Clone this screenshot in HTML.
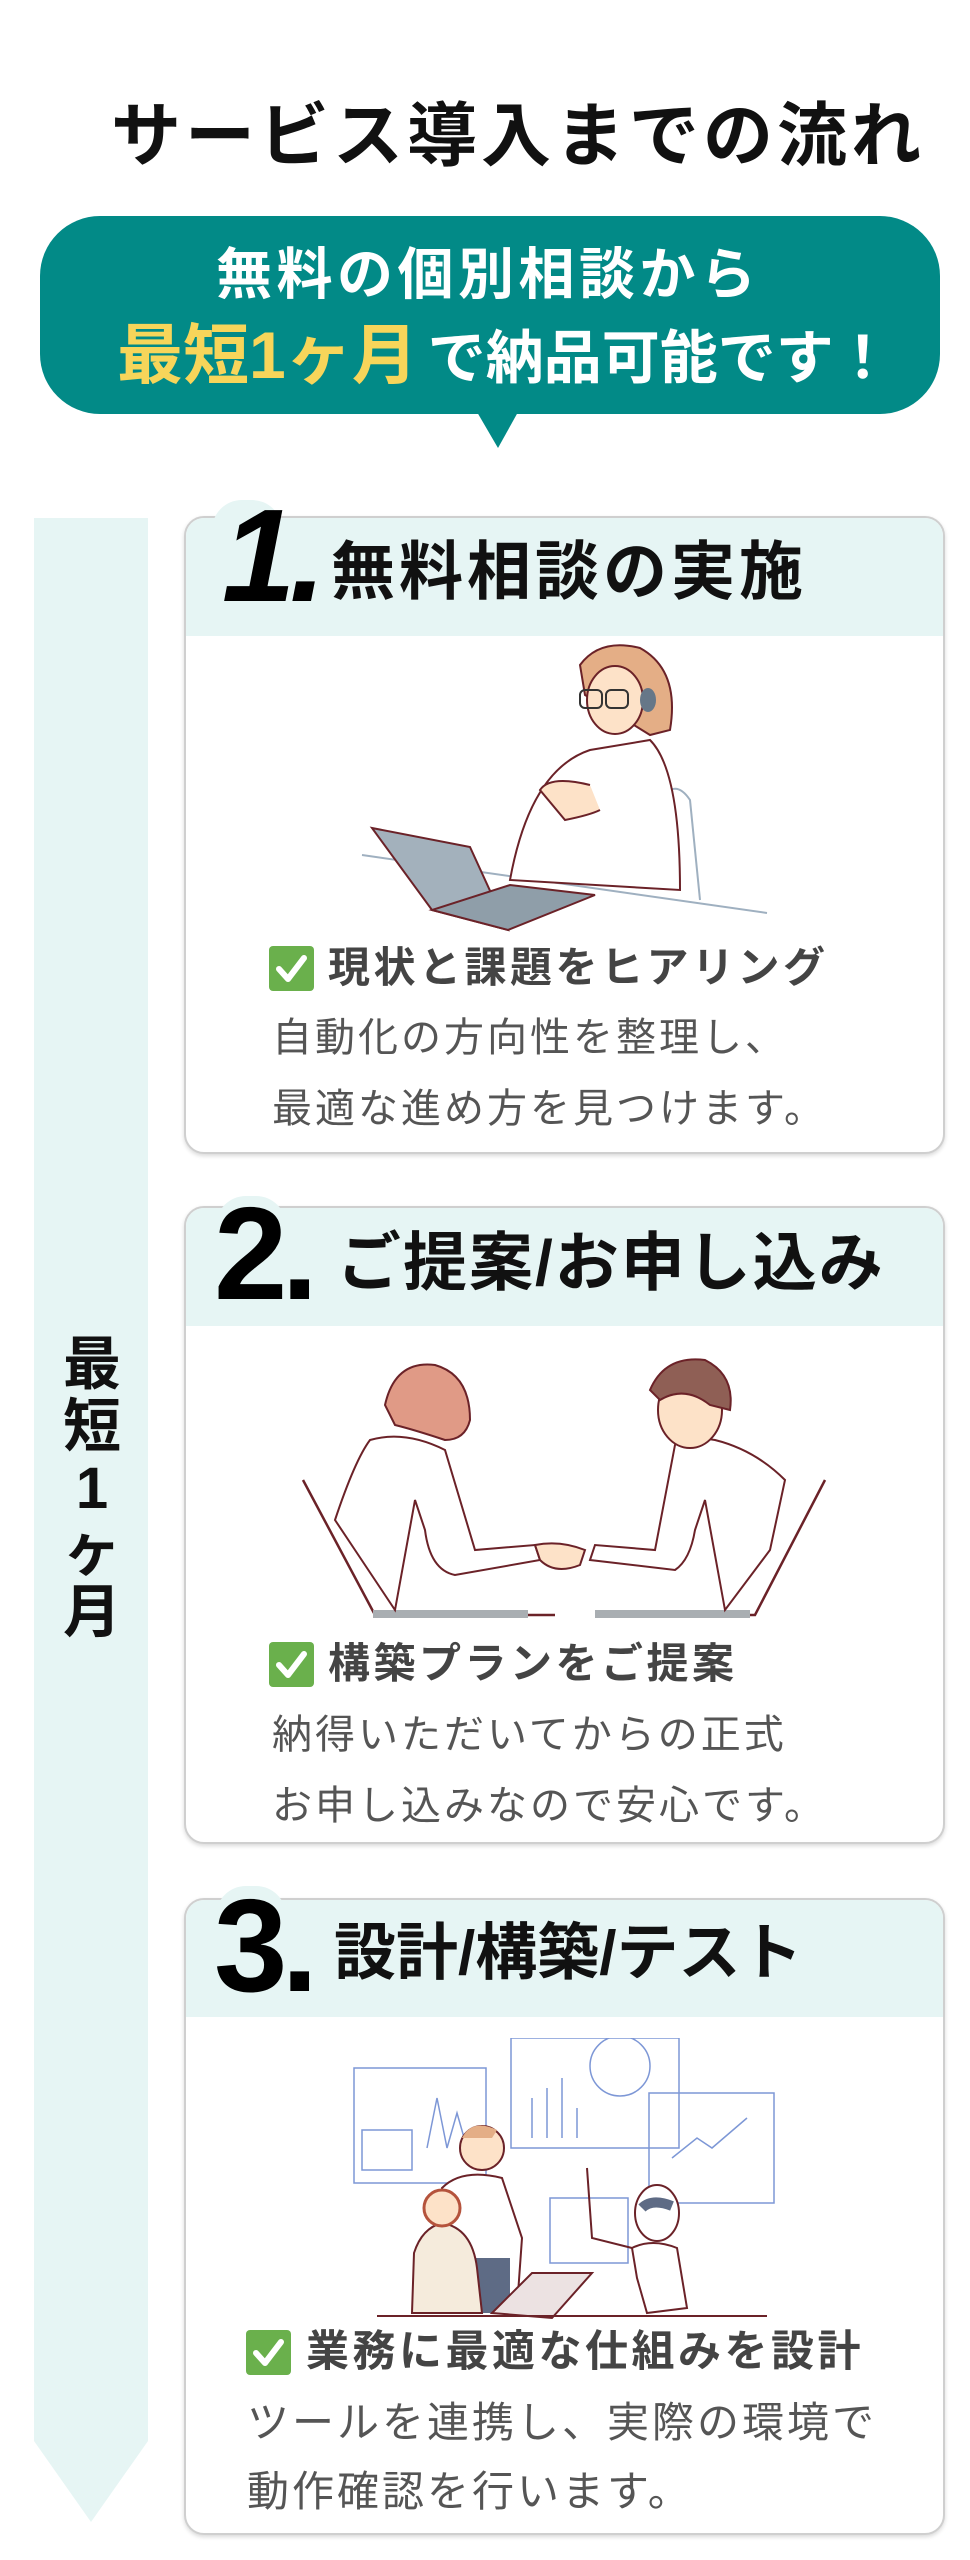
<!DOCTYPE html>
<html><head><meta charset="utf-8"><style>
*{margin:0;padding:0;box-sizing:border-box}
body{width:970px;height:2560px;background:#fff;position:relative;overflow:hidden;font-family:"Liberation Sans","Noto Sans CJK JP",sans-serif}
.a{position:absolute;white-space:nowrap}
.card{position:absolute;left:184px;width:761px;background:#fff;border:2px solid #cfcfcf;border-radius:20px;box-shadow:0 2px 4px rgba(0,0,0,.15);overflow:hidden}
.hd{position:absolute;left:0;top:0;width:100%;background:#e6f5f4}
.num{position:absolute;font-weight:bold;font-size:132px;line-height:1;color:#000;letter-spacing:-6px}
.h{font-weight:bold;color:#111}
.chk{position:absolute;width:45px;height:45px;background:#6ab04c;border-radius:4px}
.t1{font-weight:bold;font-size:42px;color:#444;letter-spacing:3.5px;line-height:44px}
.t2{font-size:40px;color:#555;letter-spacing:3px;line-height:44px}
</style></head><body>

<div class="a h" style="left:111px;top:100px;font-size:70px;line-height:72px;letter-spacing:4px">サービス導入までの流れ</div>

<div class="a" style="left:40px;top:216px;width:900px;height:198px;background:#028a87;border-radius:60px"></div>
<svg class="a" style="left:470px;top:412px" width="56" height="40"><polygon points="7,0 48,0 28,36" fill="#028a87"/></svg>
<div class="a" style="left:216px;top:246px;font-size:56px;line-height:58px;color:#fff;font-weight:bold;letter-spacing:4.5px">無料の個別相談から</div>
<div class="a" style="left:117px;top:320px;line-height:70px;font-weight:bold;color:#fff"><span style="font-size:66px;color:#f7d55a">最短1ヶ月</span><span style="font-size:58px;margin-left:10px">で納品可能です！</span></div>

<!-- left bar -->
<svg class="a" style="left:34px;top:518px" width="114" height="2010"><polygon points="0,0 114,0 114,1923 57,2004 0,1923" fill="#e6f5f4"/></svg>
<div class="a h" style="left:62px;top:1334px;width:60px;font-size:58px;line-height:62px;text-align:center;white-space:normal">最<br>短<br>1<br>ヶ<br>月</div>

<!-- card 1 -->
<div class="card" style="top:516px;height:638px"><div class="hd" style="height:118px"></div></div>
<div class="a" style="left:212px;top:500px;width:70px;height:30px;background:#e6f5f4;border-radius:35px 35px 0 0"></div>
<div class="num a" style="left:222px;top:490px;font-style:italic">1.</div>
<div class="a h" style="left:331px;top:539px;font-size:64px;line-height:66px;letter-spacing:4px">無料相談の実施</div>
<svg class="a" style="left:350px;top:640px" width="430" height="300">
<line x1="12" y1="215" x2="417" y2="273" stroke="#9fb0c0" stroke-width="2"/>
<path d="M315 240 L320 150 Q330 145 340 160 L350 260" fill="none" stroke="#9fb0c0" stroke-width="2"/>
<path d="M160 240 Q180 130 240 110 L300 100 Q330 130 330 250 Z" fill="#fff" stroke="#6b2228" stroke-width="2"/>
<path d="M230 25 Q250 -2 290 8 Q330 30 320 90 L300 95 Q260 70 235 55 Z" fill="#e4ae86" stroke="#6b2228" stroke-width="2"/>
<ellipse cx="265" cy="60" rx="28" ry="34" fill="#fde2c8" stroke="#6b2228" stroke-width="2"/>
<rect x="230" y="50" width="22" height="18" rx="5" fill="none" stroke="#333" stroke-width="2"/>
<rect x="256" y="50" width="22" height="18" rx="5" fill="none" stroke="#333" stroke-width="2"/>
<ellipse cx="298" cy="60" rx="8" ry="12" fill="#667788"/>
<path d="M240 145 Q200 135 190 150 L215 180 Q240 175 250 170" fill="#fde2c8" stroke="#6b2228" stroke-width="2"/>
<polygon points="22,188 120,207 158,290 82,270" fill="#a3b1bc" stroke="#6b2228" stroke-width="2"/>
<polygon points="82,270 158,290 245,255 160,245" fill="#8f9ea9" stroke="#6b2228" stroke-width="2"/>
</svg>
<div class="chk" style="left:269px;top:946px"></div>
<svg class="a" style="left:269px;top:946px" width="45" height="45"><path d="M10 23 L19 33 L35 12" stroke="#fff" stroke-width="6" fill="none" stroke-linecap="round" stroke-linejoin="round"/></svg>
<div class="a t1" style="left:328px;top:946px">現状と課題をヒアリング</div>
<div class="a t2" style="left:272px;top:1016px">自動化の方向性を整理し、</div>
<div class="a t2" style="left:272px;top:1087px">最適な進め方を見つけます。</div>

<!-- card 2 -->
<div class="card" style="top:1206px;height:638px"><div class="hd" style="height:118px"></div></div>
<div class="a" style="left:216px;top:1196px;width:70px;height:30px;background:#e6f5f4;border-radius:35px 35px 0 0"></div>
<div class="num a" style="left:214px;top:1188px">2.</div>
<div class="a h" style="left:337px;top:1230px;font-size:64px;line-height:66px;letter-spacing:2px">ご提案/お申し込み</div>
<svg class="a" style="left:295px;top:1350px" width="540" height="280">
<path d="M8 130 L80 265 L260 265" fill="none" stroke="#6b2228" stroke-width="2.5"/>
<path d="M530 130 L460 265 L300 265" fill="none" stroke="#6b2228" stroke-width="2.5"/>
<rect x="78" y="260" width="155" height="8" fill="#a9aeb2"/><rect x="300" y="260" width="155" height="8" fill="#a9aeb2"/>
<path d="M40 170 Q60 110 75 90 Q110 80 150 100 L180 200 L240 195 L245 210 L160 225 Q135 220 130 180 L120 150 L100 260 L60 200 Z" fill="#fff" stroke="#6b2228" stroke-width="2"/>
<path d="M90 55 Q100 10 140 15 Q175 25 175 70 Q170 90 150 90 Q120 80 100 75 Z" fill="#e09a86" stroke="#6b2228" stroke-width="2"/>
<path d="M490 130 Q460 100 420 90 Q390 85 380 95 L360 200 L300 195 L295 210 L380 220 Q395 210 400 180 L410 150 L430 260 L475 200 Z" fill="#fff" stroke="#6b2228" stroke-width="2"/>
<ellipse cx="395" cy="60" rx="32" ry="38" fill="#fde2c8" stroke="#6b2228" stroke-width="2"/>
<path d="M355 40 Q370 5 410 10 Q440 25 435 60 L415 55 Q390 35 365 50 Z" fill="#8f5f55" stroke="#6b2228" stroke-width="2"/>
<path d="M240 195 Q265 190 290 200 L285 215 Q260 225 245 210 Z" fill="#fde2c8" stroke="#6b2228" stroke-width="2"/>
</svg>
<div class="chk" style="left:269px;top:1642px"></div>
<svg class="a" style="left:269px;top:1642px" width="45" height="45"><path d="M10 23 L19 33 L35 12" stroke="#fff" stroke-width="6" fill="none" stroke-linecap="round" stroke-linejoin="round"/></svg>
<div class="a t1" style="left:328px;top:1642px">構築プランをご提案</div>
<div class="a t2" style="left:272px;top:1713px">納得いただいてからの正式</div>
<div class="a t2" style="left:272px;top:1784px">お申し込みなので安心です。</div>

<!-- card 3 -->
<div class="card" style="top:1898px;height:637px"><div class="hd" style="height:117px"></div></div>
<div class="a" style="left:216px;top:1886px;width:70px;height:30px;background:#e6f5f4;border-radius:35px 35px 0 0"></div>
<div class="num a" style="left:214px;top:1880px">3.</div>
<div class="a h" style="left:334px;top:1922px;font-size:62px;line-height:64px;letter-spacing:0px">設計/構築/テスト</div>
<svg class="a" style="left:352px;top:2038px" width="430" height="290">
<g fill="none" stroke="#7d97d6" stroke-width="1.5">
<rect x="2" y="30" width="132" height="115"/><rect x="159" y="0" width="168" height="110"/><rect x="297" y="55" width="125" height="110"/><rect x="198" y="160" width="78" height="65"/>
<circle cx="268" cy="28" r="30"/><rect x="10" y="92" width="50" height="40"/>
<path d="M75 110 L85 60 L95 110 L105 75 L115 110"/><path d="M180 100 V60 M195 100 V50 M210 100 V40 M225 100 V70"/>
<path d="M320 120 L345 100 L360 110 L395 80"/>
</g>
<path d="M90 150 Q110 130 150 140 L170 200 L165 270 L110 270 L100 210 Z" fill="#fff" stroke="#6b2228" stroke-width="2"/>
<rect x="108" y="220" width="50" height="55" fill="#5e6b85"/>
<circle cx="130" cy="110" r="22" fill="#fde2c8" stroke="#6b2228" stroke-width="2"/>
<path d="M110 100 Q120 80 145 92 L140 100 Z" fill="#e4ae86"/>
<path d="M62 215 Q70 190 90 185 Q120 190 125 230 L130 275 L60 275 Z" fill="#f5ebdc" stroke="#6b2228" stroke-width="2"/>
<circle cx="90" cy="170" r="18" fill="#fde2c8" stroke="#b5533c" stroke-width="3"/>
<path d="M140 275 L180 235 L240 235 L200 280 Z" fill="#ece2e2" stroke="#6b2228" stroke-width="2"/>
<ellipse cx="305" cy="175" rx="22" ry="28" fill="#fff" stroke="#6b2228" stroke-width="2"/>
<path d="M290 170 Q300 160 320 168" fill="none" stroke="#5e6b85" stroke-width="10"/>
<path d="M280 210 Q300 200 325 210 L335 270 L295 275 L285 240 Z" fill="#fff" stroke="#6b2228" stroke-width="2"/>
<path d="M280 210 L240 200 L235 130" fill="none" stroke="#6b2228" stroke-width="2"/>
<line x1="25" y1="278" x2="415" y2="278" stroke="#6b2228" stroke-width="2"/>
</svg>
<div class="chk" style="left:246px;top:2330px"></div>
<svg class="a" style="left:246px;top:2330px" width="45" height="45"><path d="M10 23 L19 33 L35 12" stroke="#fff" stroke-width="6" fill="none" stroke-linecap="round" stroke-linejoin="round"/></svg>
<div class="a t1" style="left:306px;top:2330px;font-size:43px">業務に最適な仕組みを設計</div>
<div class="a t2" style="left:247px;top:2401px;font-size:42px">ツールを連携し、実際の環境で</div>
<div class="a t2" style="left:247px;top:2470px;font-size:42px">動作確認を行います。</div>

</body></html>
